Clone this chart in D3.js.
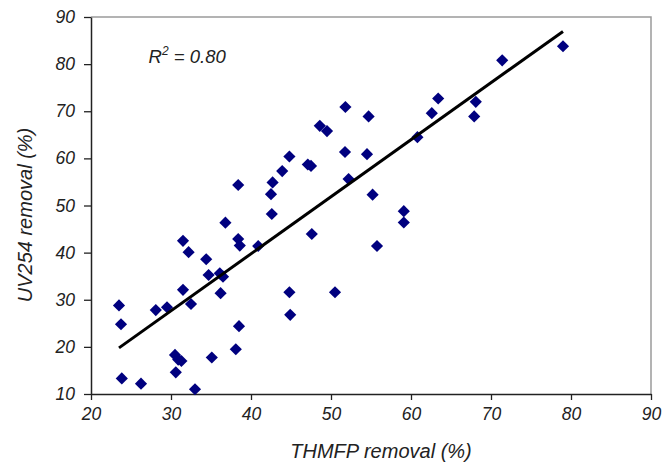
<!DOCTYPE html>
<html>
<head>
<meta charset="utf-8">
<script src="https://cdn.jsdelivr.net/npm/d3@7"></script>
<style>
  body { margin: 0; background: #fff; }
  text { font-family: "Liberation Sans", Arial, sans-serif; font-style: italic; fill: #222; }
</style>
</head>
<body>
<svg id="chart"></svg>
<script>
// THMFP removal (%) vs UV254 removal (%)
const thmfp = [79.0, 71.4, 63.4, 62.6, 68.1, 67.9, 60.8, 51.8, 54.7, 48.6,
  49.5, 51.75, 54.5, 44.8, 47.1, 47.5, 43.9, 52.2, 42.7, 38.4,
  55.2, 42.5, 42.6, 36.8, 59.1, 59.1, 47.6, 31.5, 38.4, 38.6,
  40.9, 55.75, 32.2, 34.4, 34.7, 36.1, 36.5, 31.5, 36.2, 44.8,
  50.5, 32.5, 23.5, 28.1, 29.5, 44.9, 23.75, 38.5, 38.1, 30.5,
  30.9, 31.3, 35.1, 30.6, 23.85, 26.25, 33.0]
const uv254 = [83.8, 80.8, 72.7, 69.6, 72.0, 68.9, 64.5, 70.9, 68.9, 66.9,
  65.8, 61.35, 60.9, 60.4, 58.7, 58.4, 57.3, 55.6, 54.9, 54.35,
  52.3, 52.4, 48.2, 46.35, 48.8, 46.4, 43.95, 42.5, 42.9, 41.5,
  41.4, 41.4, 40.1, 38.6, 35.25, 35.6, 34.9, 32.1, 31.4, 31.6,
  31.6, 29.1, 28.8, 27.8, 28.4, 26.8, 24.8, 24.4, 19.5, 18.3,
  17.3, 17.0, 17.75, 14.6, 13.3, 12.2, 11.0]

const xTicks = [20, 30, 40, 50, 60, 70, 80, 90]
const yTicks = [10, 20, 30, 40, 50, 60, 70, 80, 90]

// linear fit as drawn on the figure
const fitSlope = 1.21
const fitIntercept = -8.65
const rSquared = "0.80"

const width = 672, height = 462
const margin = {top: 17, right: 21, bottom: 68, left: 91}

const svg = d3.select("#chart")
  .attr("width", width)
  .attr("height", height)

const x = d3.scaleLinear().domain([20, 90]).range([margin.left, width - margin.right])
const y = d3.scaleLinear().domain([10, 90]).range([height - margin.bottom, margin.top])

// grey frame on top and right
svg.append("path")
  .attr("d", `M${x(20)},${y(90)}H${x(90)}V${y(10)}`)
  .attr("fill", "none")
  .attr("stroke", "#9a9a9a")
  .attr("stroke-width", 1.5)

const xAxis = svg.append("g")
  .attr("transform", `translate(0,${y(10)})`)
  .call(d3.axisBottom(x).tickValues(xTicks).tickSize(6).tickPadding(8).tickSizeOuter(0))
xAxis.select(".domain").attr("stroke", "#222").attr("stroke-width", 1.5)
xAxis.selectAll(".tick line").attr("stroke", "#222").attr("stroke-width", 1.3)
xAxis.selectAll("text").attr("font-size", 17.5).attr("fill", "#222")
  .attr("font-family", "Liberation Sans, Arial, sans-serif")

const yAxis = svg.append("g")
  .attr("transform", `translate(${x(20)},0)`)
  .call(d3.axisLeft(y).tickValues(yTicks).tickSize(7).tickPadding(9).tickSizeOuter(0))
yAxis.select(".domain").attr("stroke", "#222").attr("stroke-width", 1.5)
yAxis.selectAll(".tick line").attr("stroke", "#222").attr("stroke-width", 1.3)
yAxis.selectAll("text").attr("font-size", 17.5).attr("fill", "#222")
  .attr("font-family", "Liberation Sans, Arial, sans-serif")

// points
const points = thmfp.map((v, i) => ({x: v, y: uv254[i]}))
const diamond = d3.symbol().type(d3.symbolSquare).size(74)

svg.append("g")
  .selectAll("path")
  .data(points)
  .join("path")
  .attr("d", diamond)
  .attr("transform", d => `translate(${x(d.x)},${y(d.y)}) rotate(45)`)
  .attr("fill", "#00007f")

// regression line over the data range
const xr = d3.extent(thmfp)
svg.append("line")
  .attr("x1", x(xr[0]))
  .attr("y1", y(fitSlope * xr[0] + fitIntercept))
  .attr("x2", x(xr[1]))
  .attr("y2", y(fitSlope * xr[1] + fitIntercept))
  .attr("stroke", "#000")
  .attr("stroke-width", 3)

// R^2 label
const r2 = svg.append("text")
  .attr("x", x(27.2))
  .attr("y", y(80.2))
  .attr("font-size", 18.5)
r2.append("tspan").text("R")
r2.append("tspan").text("2").attr("font-size", 12).attr("dy", -8)
r2.append("tspan").text(" = " + rSquared).attr("dy", 8)

// axis titles
svg.append("text")
  .attr("x", 381)
  .attr("y", 458)
  .attr("text-anchor", "middle")
  .attr("font-size", 20)
  .text("THMFP removal (%)")

svg.append("text")
  .attr("transform", "translate(32,215) rotate(-90)")
  .attr("text-anchor", "middle")
  .attr("font-size", 20)
  .text("UV254 removal (%)")
</script>
</body>
</html>
